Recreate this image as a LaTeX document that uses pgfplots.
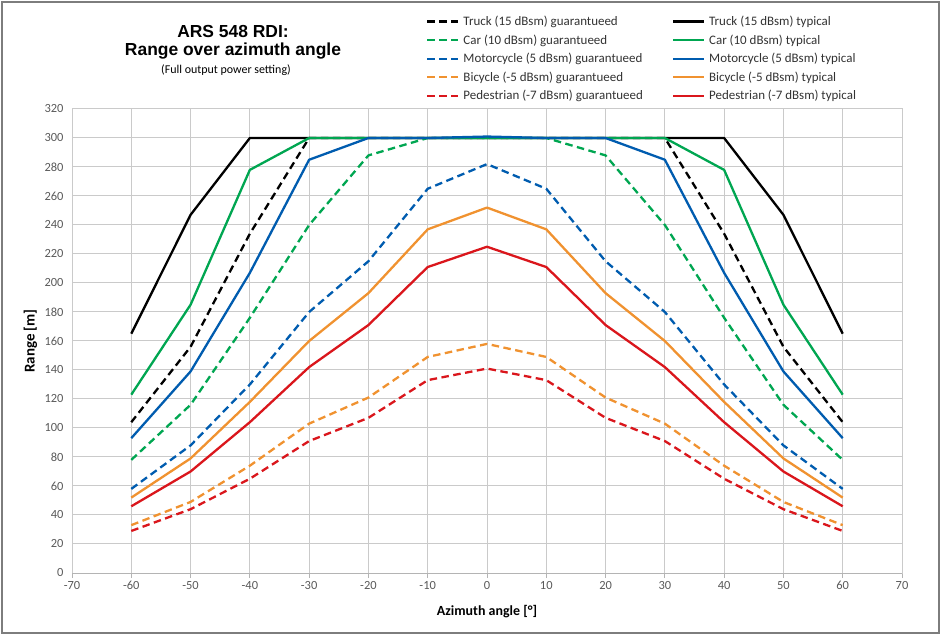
\documentclass[border=0pt]{standalone}
\usepackage{fontspec}
\setmainfont{Carlito}
\newfontfamily\titlefont{Liberation Sans}
\usepackage{pgfplots}
\usepackage{pgfplotstable}
\pgfplotsset{compat=1.18}
\definecolor{cgreen}{RGB}{0,166,81}
\definecolor{cblue}{RGB}{0,92,175}
\definecolor{corange}{RGB}{240,146,48}
\definecolor{cred}{RGB}{218,22,28}
\definecolor{gridc}{RGB}{202,202,202}
\definecolor{axisc}{RGB}{180,180,180}
\definecolor{zeroc}{RGB}{170,170,170}
\definecolor{tickc}{RGB}{89,89,89}
\definecolor{legc}{RGB}{50,50,50}
\definecolor{framec}{RGB}{125,125,125}

\pgfplotstableread{
x   tg  tt  cg  ct  mg  mt  bg  bt  pg  pt
-60 104 165 78  123 58  93  33  52  29  46
-50 156 247 116 185 88  139 49  79  44  70
-40 234 300 176 278 130 207 74  118 65  104
-30 300 300 240 300 180 285 103 160 91  142
-20 300 300 288 300 215 300 121 193 107 171
-10 300 300 300 300 265 300 149 237 133 211
0   300 300 300 300 282 301 158 252 141 225
10  300 300 300 300 265 300 149 237 133 211
20  300 300 288 300 215 300 121 193 107 171
30  300 300 240 300 180 285 103 160 91  142
40  234 300 176 278 130 207 74  118 65  104
50  156 247 116 185 88  139 49  79  44  70
60  104 165 78  123 58  93  33  52  29  46
}\data

\tikzset{
  gline/.style={line width=2.3bp, line join=round, dash pattern=on 7.5bp off 4.5bp},
  tline/.style={line width=2.3bp, line join=round},
}

\begin{document}
\begin{tikzpicture}
\useasboundingbox (0,0) rectangle (942bp,635bp);
\draw[framec, line width=2.5bp] (2bp,2bp) rectangle (939bp,633bp);
\node[font=\titlefont\bfseries\fontsize{17.5}{20}\selectfont, anchor=base, inner sep=0pt] at (233bp,597.7bp) {ARS 548 RDI:};
\node[font=\titlefont\bfseries\fontsize{17.5}{20}\selectfont, anchor=base, inner sep=0pt] at (233bp,579.3bp) {Range over azimuth angle};
\node[font=\fontsize{12}{14}\selectfont, anchor=base, inner sep=0pt] at (226bp,561bp) {(Full output power setting)};
\begin{axis}[
  at={(72bp,62bp)}, anchor=south west,
  scale only axis, width=830bp, height=464bp,
  xmin=-70, xmax=70, ymin=0, ymax=320,
  xtick={-70,-60,...,70}, ytick={0,20,...,320},
  grid=major,
  major grid style={draw=gridc, line width=1bp},
  axis line style={draw=gridc, line width=1bp},
  tick align=outside, major tick length=5bp,
  xtick pos=bottom, ytick pos=left,
  x tick style={draw=axisc, line width=1bp},
  y tick style={draw=none},
  extra x ticks={0}, extra x tick labels={},
  extra x tick style={grid style={draw=zeroc, line width=1bp}, major tick length=0pt},
  tick label style={font=\fontsize{12.5}{14}\selectfont, text=tickc},
  /pgf/number format/assume math mode=true,
  xlabel={Azimuth angle [°]},
  ylabel={Range [m]},
  xlabel style={font=\bfseries\fontsize{14}{16}\selectfont, at={(axis description cs:0.5,-0.0834)}, anchor=center},
  ylabel style={font=\bfseries\fontsize{15}{17}\selectfont, at={(axis description cs:-0.050,0.5)}, anchor=center},
  legend columns=2,
  legend cell align=left,
  legend style={at={(axis description cs:0.4265,1.2028)}, anchor=north west, draw=none, fill=none, inner sep=0pt,
    font=\fontsize{13}{15}\selectfont, text=legc, row sep=5.6bp,
    nodes={inner ysep=1bp, inner xsep=4bp},
    /tikz/every even column/.append style={column sep=25bp}},
  legend image code/.code={\draw[#1] (0bp,0bp) -- (31bp,0bp);},
]
\addplot[black, gline] table[x=x,y=tg]{\data}; \addlegendentry{Truck (15 dBsm) guarantueed}
\addplot[black, tline] table[x=x,y=tt]{\data}; \addlegendentry{Truck (15 dBsm) typical}
\addplot[cgreen, gline] table[x=x,y=cg]{\data}; \addlegendentry{Car (10 dBsm) guarantueed}
\addplot[cgreen, tline] table[x=x,y=ct]{\data}; \addlegendentry{Car (10 dBsm) typical}
\addplot[cblue, gline] table[x=x,y=mg]{\data}; \addlegendentry{Motorcycle (5 dBsm) guarantueed}
\addplot[cblue, tline] table[x=x,y=mt]{\data}; \addlegendentry{Motorcycle (5 dBsm) typical}
\addplot[corange, gline] table[x=x,y=bg]{\data}; \addlegendentry{Bicycle (-5 dBsm) guarantueed}
\addplot[corange, tline] table[x=x,y=bt]{\data}; \addlegendentry{Bicycle (-5 dBsm) typical}
\addplot[cred, gline] table[x=x,y=pg]{\data}; \addlegendentry{Pedestrian (-7 dBsm) guarantueed}
\addplot[cred, tline] table[x=x,y=pt]{\data}; \addlegendentry{Pedestrian (-7 dBsm) typical}
\draw[axisc, line width=1bp] (axis cs:-70,0) -- (axis cs:70,0);
\end{axis}
\end{tikzpicture}
\end{document}
